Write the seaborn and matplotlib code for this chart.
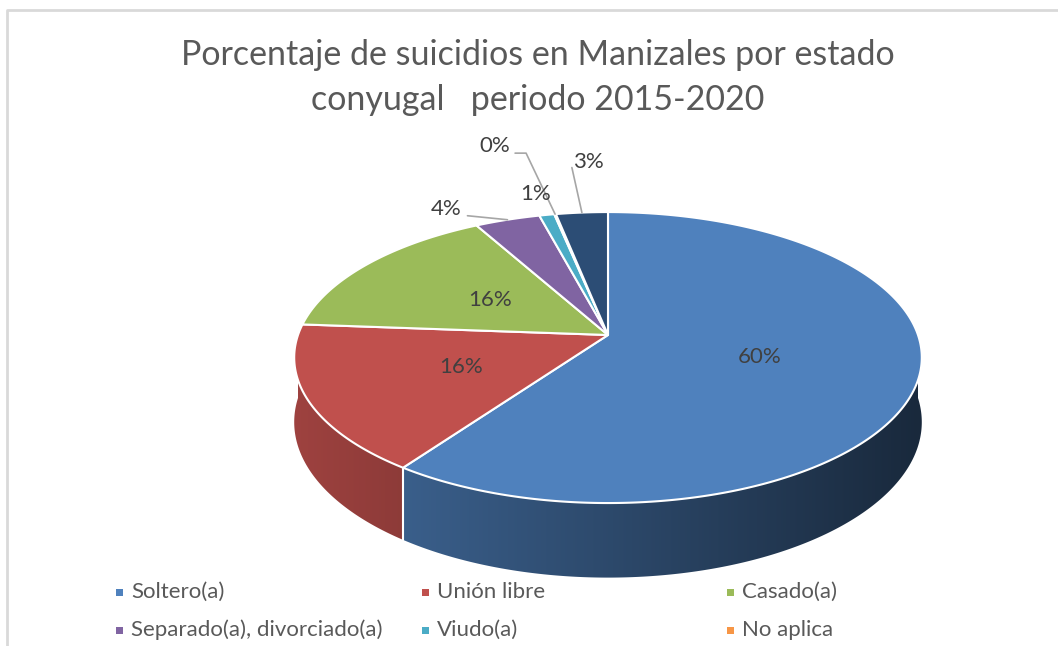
import numpy as np
import matplotlib
matplotlib.use("Agg")
import matplotlib.pyplot as plt
from matplotlib.patches import Polygon, Rectangle
from matplotlib.colors import to_rgb
import seaborn as sns

# ---------------- data ----------------
title_lines = ["Porcentaje de suicidios en Manizales por estado",
               "conyugal   periodo 2015-2020"]
categories = ["Soltero(a)", "Unión libre", "Casado(a)", "Separado(a), divorciado(a)",
              "Viudo(a)", "No aplica", None]
values = [59.8, 16.4, 15.8, 3.9, 0.9, 0.1, 3.1]
colors = ["#4F81BD", "#C0504D", "#9BBB59", "#8064A2", "#4BACC6", "#F79646", "#2C4D75"]

# ---------------- layout / style ----------------
sns.set_theme(style="white")
plt.rcParams["font.family"] = ["Lato", "DejaVu Sans"]

W, H = 1058, 646
fig = plt.figure(figsize=(W / 100, H / 100), dpi=100)
ax = fig.add_axes([0, 0, 1, 1])
ax.set_xlim(0, W)
ax.set_ylim(H, 0)
ax.axis("off")

cx, cy = 608, 335          # projected centre of the disk
A, B = 310, 142            # disk semi axes before perspective
K = 0.155                  # perspective factor
DEPTH = 63                 # side thickness


def proj(theta, r=1.0):
    """theta in degrees, clockwise from the back (top) of the pie."""
    t = np.radians(theta)
    g = 1.0 / (1.0 + K * np.cos(t))
    x = cx + A * r * np.sin(t) * g
    y = cy - B * r * np.cos(t) * g
    return x, y, g


total = float(sum(values))
fracs = [v / total for v in values]
starts = np.concatenate([[0], np.cumsum(fracs)[:-1]]) * 360
ends = np.cumsum(fracs) * 360

# ---- side walls: gradient images clipped to each slice's front wall ----
gx0, gx1 = cx - A * 1.1, cx + A * 1.1
gy0, gy1 = cy - 10, cy + B * 1.3 + DEPTH * 1.4
ncol = 600
u = (np.linspace(gx0, gx1, ncol) - cx) / A
shade = np.clip(0.57 - 0.25 * u, 0.3, 0.9)
for i, (s, e) in enumerate(zip(starts, ends)):
    lo, hi = max(s, 90.0), min(e, 270.0)
    if hi <= lo:
        continue
    ts = np.linspace(lo, hi, max(3, int((hi - lo) / 0.5)))
    xs, ys, gs = proj(ts)
    top = list(zip(xs, ys))
    bot = list(zip(xs[::-1], (ys + DEPTH * gs)[::-1]))
    poly = Polygon(top + bot, closed=True, facecolor="none", edgecolor="none")
    ax.add_patch(poly)
    base = np.array(to_rgb(colors[i]))
    img = np.clip(shade[None, :, None] * base[None, None, :], 0, 1)
    img = np.repeat(img, 2, axis=0)
    im = ax.imshow(img, extent=(gx0, gx1, gy1, gy0), aspect="auto",
                   interpolation="bilinear", zorder=1)
    im.set_clip_path(poly)

ax.set_xlim(0, W)
ax.set_ylim(H, 0)

# white seams on the visible front side
for s in starts:
    if np.cos(np.radians(s)) < -K:
        x0, y0, g0 = proj(s)
        ax.plot([x0, x0], [y0, y0 + DEPTH * g0], color="white", lw=1.5, zorder=2)

# ---- top faces ----
for i, (s, e) in enumerate(zip(starts, ends)):
    if e - s <= 0:
        continue
    ts = np.linspace(s, e, max(3, int((e - s) / 0.5)))
    xs, ys, _ = proj(ts)
    pts = [(cx, cy)] + list(zip(xs, ys))
    ax.add_patch(Polygon(pts, closed=True, facecolor=colors[i], edgecolor="white",
                         lw=1.5, joinstyle="round", zorder=3))

# ---- data labels ----
lab_col = "#404040"
lead_col = "#A6A6A6"
lab_fs = 16
# small slices: (label offset from slice edge point, leader start offset from label, elbow)
outside = {
    3: ((-61, -11), (21, 7), None),
    4: ((-11, -21), None, None),
    5: ((-60, -68), (20, 7), (31, 7)),
    6: ((7, -51), (-17, 6), None),
}
for i, (s, e) in enumerate(zip(starts, ends)):
    pct = fracs[i] * 100
    txt = f"{pct:.0f}%"
    mid = (s + e) / 2
    if i in outside:
        ex, ey, _ = proj(mid, 1.0)
        (ox, oy), lead, elbow = outside[i]
        lx, ly = ex + ox, ey + oy
        ax.text(lx, ly, txt, ha="center", va="center", fontsize=lab_fs, color=lab_col, zorder=6)
        if lead is not None:
            px = [lx + lead[0]]
            py = [ly + lead[1]]
            if elbow is not None:
                px.append(lx + elbow[0])
                py.append(ly + elbow[1])
            px.append(ex)
            py.append(ey)
            ax.plot(px, py, color=lead_col, lw=1.2, zorder=5)
    else:
        lx, ly, _ = proj(mid, 0.49)
        ax.text(lx, ly, txt, ha="center", va="center", fontsize=lab_fs, color=lab_col, zorder=6)

# ---- title ----
for line, y in zip(title_lines, [55, 100]):
    ax.text(538, y, line, ha="center", va="center", fontsize=24.5, color="#595959",
            fontweight="normal", zorder=6)

# ---- legend ----
leg_x = [119, 425, 730]
leg_y = [592, 630]
k = 0
for i, name in enumerate(categories):
    if name is None:
        continue
    r, c = divmod(k, 3)
    mx, my = leg_x[c], leg_y[r]
    ax.add_patch(Rectangle((mx - 3.5, my - 3.5), 7, 7, facecolor=colors[i],
                           edgecolor="none", zorder=6))
    ax.text(mx + 12, my, name, ha="left", va="center", fontsize=16, color="#595959", zorder=6)
    k += 1

# ---- chart frame ----
ax.plot([7, 7, W + 5], [H + 5, 9.5, 9.5], color="#D9D9D9", lw=2.0, zorder=0)

fig.savefig("out.png", dpi=100, facecolor="white")
